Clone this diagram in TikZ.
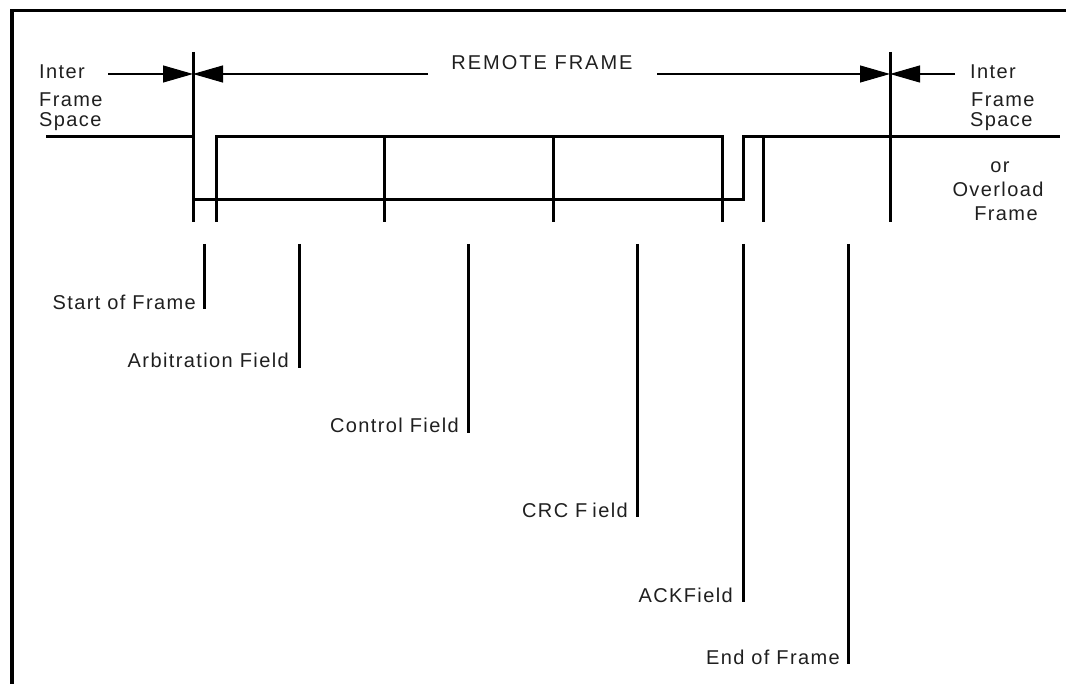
\documentclass[tikz,border=0pt]{standalone}
\usepackage{fontspec}
\setmainfont{Liberation Sans}[LetterSpace=7]
\usetikzlibrary{arrows.meta}
\begin{document}
\begin{tikzpicture}[x=1pt,y=-1pt,
  lbl/.style={font=\fontsize{20}{23}\selectfont, inner sep=0pt, text=black!88},
  sig/.style={line width=3pt, line cap=butt},
  leader/.style={line width=3pt},
  dim/.style={line width=1.1pt, -{Triangle[length=30pt,width=17pt]}},
  border/.style={line width=3.5pt, line join=miter}]
\useasboundingbox (0,0) rectangle (1066,684);
% outer frame (left and top edges)
\coordinate (bl) at (12,684);
\coordinate (tl) at (12,10.5);
\coordinate (tr) at (1066,10.5);
\draw[border] (bl) -- (tl) -- (tr);

% signal
\coordinate (s0) at (46,137);
\coordinate (a1) at (193,52);
\coordinate (a1b) at (193,222);
\coordinate (a2) at (890,52);
\coordinate (a2b) at (890,222);
\draw[sig] (s0) -- (193,137);
\draw[sig] (a1) -- (a1b);
\draw[sig] (a2) -- (a2b);
\draw[sig] (193,200) -- (743,200) -- (743,137) -- (1060,137);
\draw[sig] (216,222) -- (216,137) -- (722,137) -- (722,222);
\foreach \x in {384,553,763} \draw[sig] (\x,137) -- (\x,222);

% dimension arrows
\coordinate (d1) at (193,74);
\coordinate (d2) at (890,74);
\draw[dim] (108,74) -- (d1);
\draw[dim] (428,74) -- (d1);
\draw[dim] (657,74) -- (d2);
\draw[dim] (955,74) -- (d2);
\node[lbl, anchor=base, font=\fontsize{20}{23}\selectfont\addfontfeature{LetterSpace=10}] (rf) at (542,70) {REMOTE FRAME};

% inter frame labels
\node[lbl, anchor=base west] (il1) at (39,79) {Inter};
\node[lbl, anchor=base west] (il2) at (39,107) {Frame};
\node[lbl, anchor=base west] (il3) at (39,127) {Space};
\node[lbl, anchor=base west] (ir1) at (970,79) {Inter};
\node[lbl, anchor=base west] (ir2) at (971,107) {Frame};
\node[lbl, anchor=base west] (ir3) at (970,127) {Space};
\node[lbl, anchor=base] (ir4) at (1000,173) {or};
\node[lbl, anchor=base] (ir5) at (998,197) {Overload};
\node[lbl, anchor=base] (ir6) at (1006,221) {Frame};

% field leaders
\foreach \n/\x/\yb in {sof/204/309, arb/299/368, ctl/468/433, crc/637/517, ack/743/602, eof/848/664} {
  \coordinate (\n t) at (\x,244);
  \coordinate (\n b) at (\x,\yb);
  \draw[leader] (\n t) -- (\n b);
}
\node[lbl, anchor=base east] (lsof) at ([xshift=-8pt,yshift=-1pt]sofb) {Start of Frame};
\node[lbl, anchor=base east] (larb) at ([xshift=-10pt,yshift=0pt]arbb) {Arbitration Field};
\node[lbl, anchor=base east] (lctl) at ([xshift=-9pt,yshift=0pt]ctlb) {Control Field};
\node[lbl, anchor=base east] (lcrc) at ([xshift=-9pt,yshift=0pt]crcb) {CRC F\kern5pt ield};
\node[lbl, anchor=base east] (lack) at ([xshift=-10pt,yshift=0pt]ackb) {ACKField};
\node[lbl, anchor=base east] (leof) at ([xshift=-8pt,yshift=0pt]eofb) {End of Frame};
\end{tikzpicture}
\end{document}
